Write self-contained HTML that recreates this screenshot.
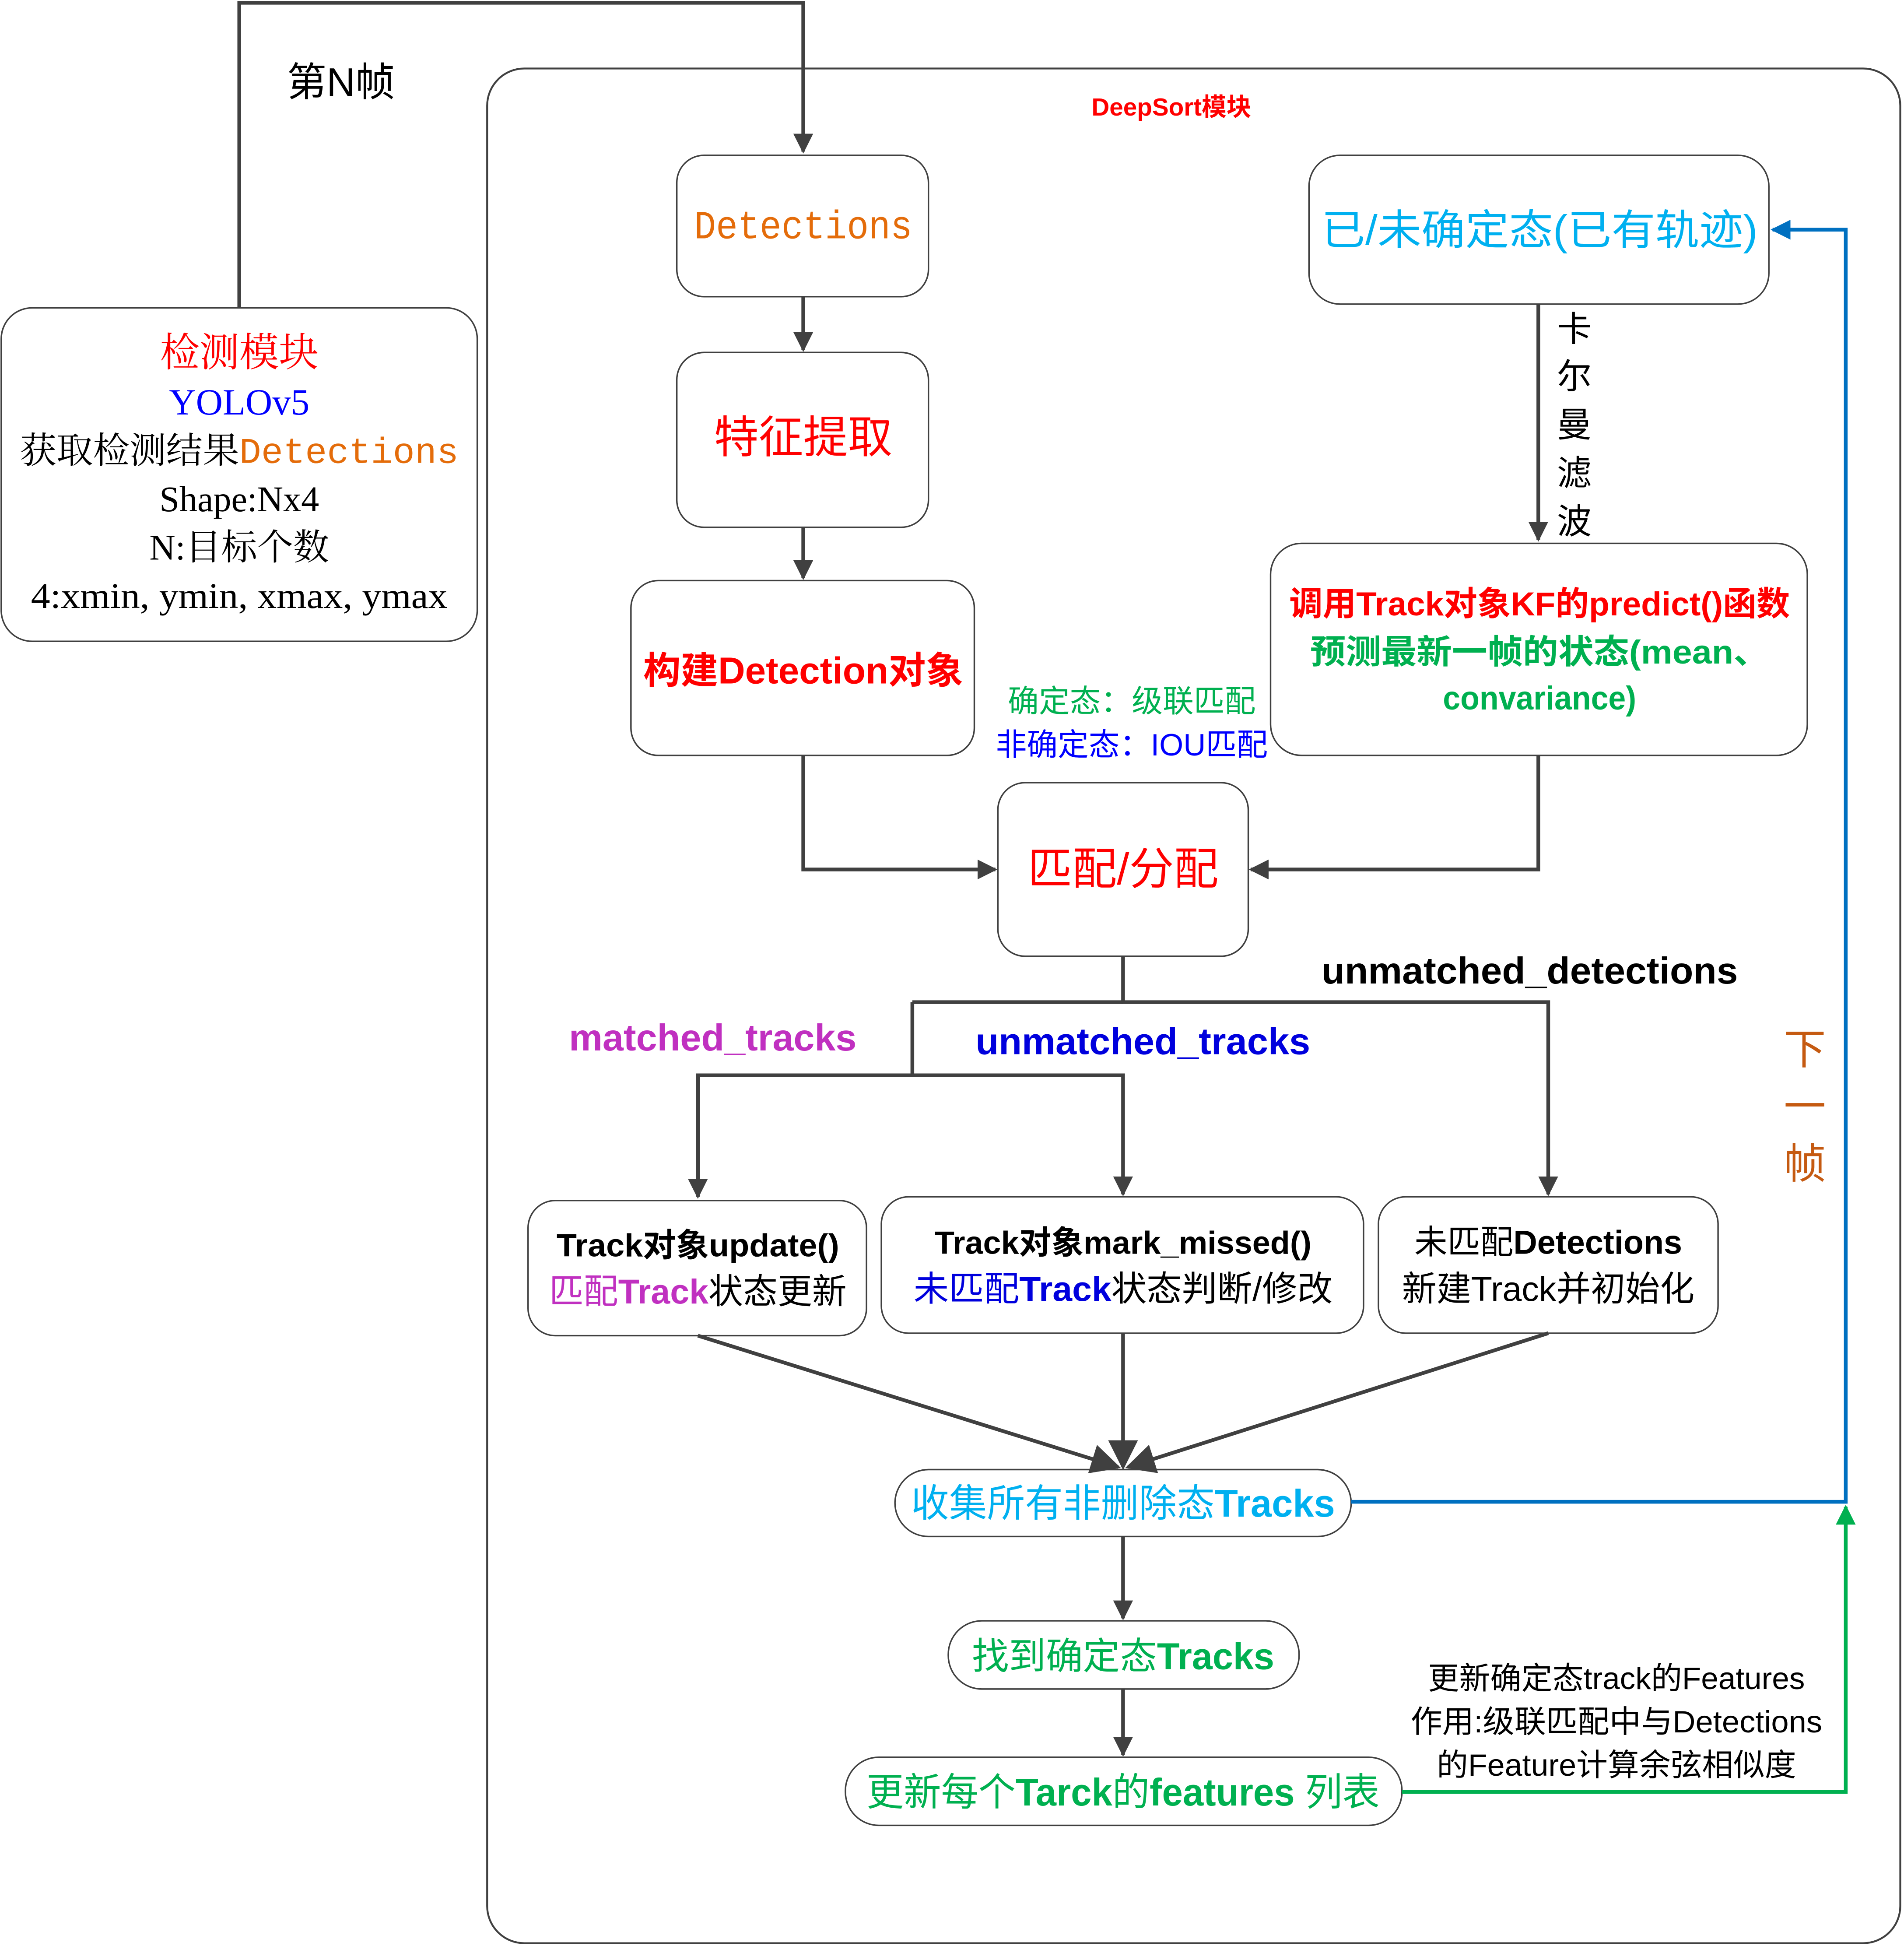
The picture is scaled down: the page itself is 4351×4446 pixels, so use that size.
<!DOCTYPE html>
<html><head><meta charset="utf-8">
<style>html,body{margin:0;padding:0;background:#fff}svg{display:block}
.s{font-family:"Liberation Sans","Noto Sans CJK SC",sans-serif}
.r{font-family:"Liberation Serif","Noto Serif CJK SC",serif}
.m{font-family:"Liberation Mono","Noto Serif CJK SC",monospace}
</style></head><body>
<svg width="4351" height="4446" viewBox="0 0 1536 1569" xmlns="http://www.w3.org/2000/svg">
<defs>
<marker id="ak" viewBox="0 0 10 10" refX="9" refY="5" markerWidth="16" markerHeight="16" orient="auto" markerUnits="userSpaceOnUse"><path d="M0,0L10,5L0,10z" fill="#404040"/></marker>
<marker id="ab" viewBox="0 0 10 10" refX="9" refY="5" markerWidth="16" markerHeight="16" orient="auto" markerUnits="userSpaceOnUse"><path d="M0,0L10,5L0,10z" fill="#0070c0"/></marker>
<marker id="ag" viewBox="0 0 10 10" refX="9" refY="5" markerWidth="16" markerHeight="16" orient="auto" markerUnits="userSpaceOnUse"><path d="M0,0L10,5L0,10z" fill="#00b050"/></marker>
<marker id="big" viewBox="0 0 10 10" refX="9" refY="5" markerWidth="24" markerHeight="28" orient="auto" markerUnits="userSpaceOnUse"><path d="M0,0L10,5L0,10z" fill="#404040"/></marker>
</defs>
<g fill="none" stroke="#404040" stroke-width="3">
<path d="M193,248V2H648V122" marker-end="url(#ak)"/>
<rect x="393" y="55" width="1140" height="1512" rx="30" stroke-width="1.5"/>
<rect x="1" y="248" width="384" height="269" rx="25" stroke-width="1.2"/>
<rect x="546" y="125" width="203" height="114" rx="22" stroke-width="1.2"/>
<rect x="546" y="284" width="203" height="141" rx="22" stroke-width="1.2"/>
<rect x="509" y="468" width="277" height="141" rx="22" stroke-width="1.2"/>
<rect x="805" y="631" width="202" height="140" rx="22" stroke-width="1.2"/>
<rect x="1056" y="125" width="371" height="120" rx="25" stroke-width="1.2"/>
<rect x="1025" y="438" width="433" height="171" rx="25" stroke-width="1.2"/>
<rect x="426" y="968" width="273" height="109" rx="22" stroke-width="1.2"/>
<rect x="711" y="965" width="389" height="110" rx="22" stroke-width="1.2"/>
<rect x="1112" y="965" width="274" height="110" rx="22" stroke-width="1.2"/>
<rect x="722" y="1185" width="368" height="54" rx="27" stroke-width="1.2"/>
<rect x="765" y="1307" width="283" height="55" rx="27" stroke-width="1.2"/>
<rect x="682" y="1417" width="449" height="55" rx="27" stroke-width="1.2"/>
<path d="M648,239V282" marker-end="url(#ak)"/>
<path d="M648,425V466" marker-end="url(#ak)"/>
<path d="M648,609V701H803" marker-end="url(#ak)"/>
<path d="M1241,609V701H1009" marker-end="url(#ak)"/>
<path d="M1241,245V435" marker-end="url(#ak)"/>
<path d="M906,771V808H1249V963" marker-end="url(#ak)"/>
<path d="M736,808H906"/>
<path d="M736,808V867H563V965" marker-end="url(#ak)"/>
<path d="M736,867H906V963" marker-end="url(#ak)"/>
<path d="M563,1077L902,1183" marker-end="url(#big)"/>
<path d="M906,1075V1183" marker-end="url(#big)"/>
<path d="M1249,1075L910,1183" marker-end="url(#big)"/>
<path d="M906,1239V1305" marker-end="url(#ak)"/>
<path d="M906,1362V1415" marker-end="url(#ak)"/>
<path d="M1090,1211H1489V185H1430" stroke="#0070c0" marker-end="url(#ab)"/>
<path d="M1131,1445H1489V1215" stroke="#00b050" marker-end="url(#ag)"/>
</g>
<g text-anchor="middle" class="s">
<text x="275" y="77" font-size="32">第N帧</text>
<text x="945" y="93" font-size="20" font-weight="bold" fill="#ff0000">DeepSort模块</text>
<text x="193" y="295" font-size="32" fill="#ff0000" class="r">检测模块</text>
<text x="193" y="334" font-size="30" fill="#0000ff" class="r">YOLOv5</text>
<text x="193" y="373" font-size="29" class="r" textLength="354" lengthAdjust="spacingAndGlyphs">获取检测结果<tspan fill="#e46c0a" class="m">Detections</tspan></text>
<text x="193" y="412" font-size="29" class="r">Shape:Nx4</text>
<text x="193" y="451" font-size="29" class="r">N:目标个数</text>
<text x="193" y="490" font-size="29" class="r" textLength="336" lengthAdjust="spacingAndGlyphs">4:xmin, ymin, xmax, ymax</text>
<text x="648" y="192" font-size="32" fill="#e46c0a" class="m" textLength="176" lengthAdjust="spacingAndGlyphs">Detections</text>
<text x="648" y="365" font-size="36" fill="#ff0000">特征提取</text>
<text x="648" y="551" font-size="30" fill="#ff0000" font-weight="bold" textLength="258" lengthAdjust="spacingAndGlyphs">构建Detection对象</text>
<text x="906" y="713" font-size="36" fill="#ff0000">匹配/分配</text>
<text x="1242" y="197" font-size="34" fill="#00b0f0" textLength="352" lengthAdjust="spacingAndGlyphs">已/未确定态(已有轨迹)</text>
<g font-size="28"><text x="1270" y="275">卡</text><text x="1270" y="313">尔</text><text x="1270" y="352">曼</text><text x="1270" y="391">滤</text><text x="1270" y="430">波</text></g>
<text x="1242" y="496" font-size="27" fill="#ff0000" font-weight="bold" textLength="404" lengthAdjust="spacingAndGlyphs">调用Track对象KF的predict()函数</text>
<text x="1242" y="535" font-size="27" fill="#00b050" font-weight="bold" textLength="370" lengthAdjust="spacingAndGlyphs">预测最新一帧的状态(mean、</text>
<text x="1242" y="572" font-size="27" fill="#00b050" font-weight="bold" textLength="156" lengthAdjust="spacingAndGlyphs">convariance)</text>
<text x="913" y="574" font-size="25" fill="#00b050">确定态：级联匹配</text>
<text x="913" y="609" font-size="25" fill="#0000ff">非确定态：IOU匹配</text>
<text x="1234" y="793" font-size="30" font-weight="bold" textLength="336" lengthAdjust="spacingAndGlyphs">unmatched_detections</text>
<text x="575" y="847" font-size="30" font-weight="bold" fill="#c030c0" textLength="232" lengthAdjust="spacingAndGlyphs">matched_tracks</text>
<text x="922" y="850" font-size="30" font-weight="bold" fill="#0000dd" textLength="270" lengthAdjust="spacingAndGlyphs">unmatched_tracks</text>
<text x="563" y="1013" font-size="26" font-weight="bold" textLength="228" lengthAdjust="spacingAndGlyphs">Track对象update()</text>
<text x="563" y="1051" font-size="28" textLength="240" lengthAdjust="spacingAndGlyphs"><tspan fill="#c030c0">匹配<tspan font-weight="bold">Track</tspan></tspan>状态更新</text>
<text x="906" y="1011" font-size="26" font-weight="bold" textLength="304" lengthAdjust="spacingAndGlyphs">Track对象mark_missed()</text>
<text x="906" y="1049" font-size="28" textLength="338" lengthAdjust="spacingAndGlyphs"><tspan fill="#0000dd">未匹配<tspan font-weight="bold">Track</tspan></tspan>状态判断/修改</text>
<text x="1249" y="1011" font-size="27" textLength="216" lengthAdjust="spacingAndGlyphs">未匹配<tspan font-weight="bold">Detections</tspan></text>
<text x="1249" y="1049" font-size="28" textLength="236" lengthAdjust="spacingAndGlyphs">新建Track并初始化</text>
<text x="906" y="1223" font-size="31" fill="#00b0f0" textLength="342" lengthAdjust="spacingAndGlyphs">收集所有非删除态<tspan font-weight="bold">Tracks</tspan></text>
<text x="906" y="1346" font-size="30" fill="#00b050" textLength="244" lengthAdjust="spacingAndGlyphs">找到确定态<tspan font-weight="bold">Tracks</tspan></text>
<text x="906" y="1456" font-size="31" fill="#00b050" textLength="414" lengthAdjust="spacingAndGlyphs">更新每个<tspan font-weight="bold">Tarck</tspan>的<tspan font-weight="bold">features</tspan> 列表</text>
<g font-size="34" fill="#c55a11"><text x="1456" y="858">下</text><text x="1456" y="904">一</text><text x="1456" y="950">帧</text></g>
<text x="1304" y="1362" font-size="25" textLength="304" lengthAdjust="spacingAndGlyphs">更新确定态track的Features</text>
<text x="1304" y="1397" font-size="25" textLength="332" lengthAdjust="spacingAndGlyphs">作用:级联匹配中与Detections</text>
<text x="1304" y="1432" font-size="25" textLength="290" lengthAdjust="spacingAndGlyphs">的Feature计算余弦相似度</text>
</g>
</svg>
</body></html>
